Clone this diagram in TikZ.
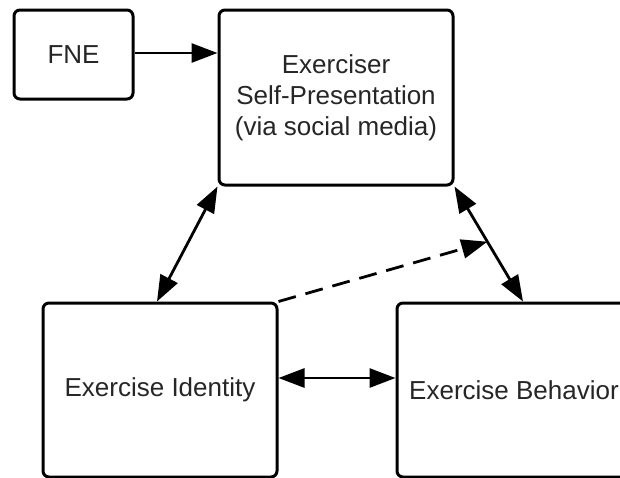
\documentclass[tikz,border=0pt]{standalone}
\usepackage{fontspec}
\setmainfont{Liberation Sans}
\usetikzlibrary{arrows.meta,calc}
\begin{document}
\begin{tikzpicture}[x=1pt,y=-1pt,
  box/.style={draw=black,line width=3pt,rounded corners=6pt,inner sep=0pt,align=center,
    font=\fontsize{26}{31}\selectfont,text=black!85},
  tip/.tip={Triangle[length=26pt,width=19pt]},
  link/.style={line width=2.8pt,draw=black,-tip},
  blink/.style={line width=2.8pt,draw=black,tip-tip},
  dlink/.style={link,dash pattern=on 18pt off 10pt}]
\path[use as bounding box,fill=white] (0,0) rectangle (620,477);
\clip (0,0) rectangle (620,477);
\node[box,minimum width=119pt,minimum height=89pt] (fne) at (73.5,54.5) {FNE};
\node[box,minimum width=234pt,minimum height=175pt] (sp) at (336,97.5) {Exerciser\\Self-Presentation\\(via social media)};
\node[box,minimum width=234pt,minimum height=174pt] (id) at (160,390) {Exercise Identity};
\node[box,minimum width=234pt,minimum height=174pt] (beh) at (514,390) {Exercise Behavior};
\coordinate (fneout) at ([yshift=1.5pt]fne.east);
\draw[link] (fneout) -- (fneout -| sp.west);
\draw[blink] (sp.south west) -- ([xshift=-3pt]id.north);
\coordinate (behin) at ([xshift=9pt]beh.north);
\draw[blink] (sp.south east) -- (behin);
\coordinate (mid) at ($(sp.south east)!0.48!(behin)$);
\draw[dlink] (id.north east) -- (mid);
\draw[blink] ([yshift=12pt]id.east) -- ([yshift=12pt]beh.west);
\end{tikzpicture}
\end{document}
